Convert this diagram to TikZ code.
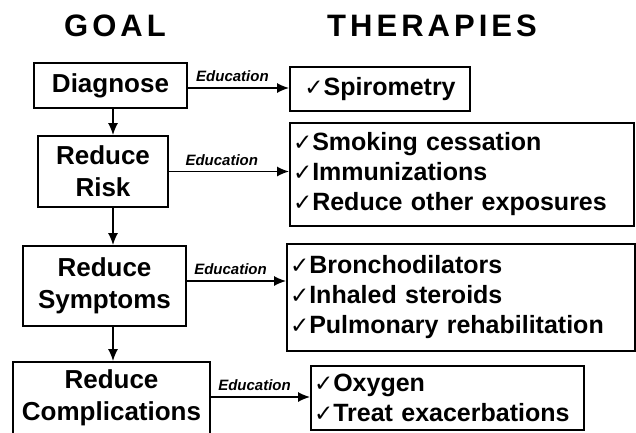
\documentclass[tikz,border=0pt]{standalone}
\usepackage{fontspec}
\setmainfont{Liberation Sans}
\newfontfamily\titlefont[LetterSpace=13]{Liberation Sans}
\newfontfamily\checkfont{DejaVu Sans}
\newcommand{\chk}{{\checkfont\fontsize{23}{23}\selectfont ✓}}
\usetikzlibrary{arrows.meta}

\begin{document}
\begin{tikzpicture}[x=1pt,y=-1pt,
  goal/.style={draw, line width=1.8pt, align=center, inner sep=0pt,
    font=\bfseries\fontsize{26}{32}\selectfont},
  therapy/.style={draw, line width=1.8pt, align=left, inner xsep=3pt, inner ysep=0pt,
    font=\bfseries\fontsize{25}{30}\selectfont},
  heading/.style={font=\titlefont\bfseries\fontsize{31}{31}\selectfont},
  flow/.style={line width=1.6pt, -{Latex[length=12pt,width=10pt]}},
  edu/.style={font=\bfseries\itshape\fontsize{15}{15}\selectfont, above=2pt, pos=0.44}]
  \useasboundingbox (0,0) rectangle (636,432);

  % Column headings
  \node[heading] (goalhead) at (115,26) {GOAL};
  \node[heading] (therhead) at (432,26) {THERAPIES};

  % Goals, top to bottom
  \node[goal, minimum width=153pt, minimum height=45pt] (diag) at (110.5,85.5) {Diagnose};
  \node[goal, minimum width=130pt, minimum height=71pt] (risk) at (103,171.5) {Reduce\\Risk};
  \node[goal, minimum width=163pt, minimum height=80pt] (symp) at (104.5,286) {Reduce\\Symptoms};
  \node[goal, minimum width=197pt, minimum height=72pt] (comp) at (111.5,398) {Reduce\\Complications};

  % Therapies for each goal
  \node[therapy, minimum width=180pt, minimum height=44pt] (spiro) at (380,89) {\chk Spirometry};
  \node[therapy, text width=338pt, minimum height=103pt] (riskther) at (462,174.5)
    {\chk Smoking cessation\\\chk Immunizations\\\chk Reduce other exposures};
  \node[therapy, text width=342pt, minimum height=107pt] (sympther) at (461,297.5)
    {\chk Bronchodilators\\\chk Inhaled steroids\\\chk Pulmonary rehabilitation};
  \node[therapy, text width=267pt, minimum height=64pt] (compther) at (447.5,398)
    {\chk Oxygen\\\chk Treat exacerbations};

  % Goal to goal
  \coordinate (spine) at (113,0);
  \draw[flow] (diag.south -| spine) -- (risk.north -| spine);
  \draw[flow] (risk.south -| spine) -- (symp.north -| spine);
  \draw[flow] (symp.south -| spine) -- (comp.north -| spine);

  % Goal to therapies
  \draw[flow] ([yshift=-2.5pt]diag.east) -- ([yshift=-2.5pt]diag.east -| spiro.west) node[edu]{Education};
  \draw[flow] (risk.east) -- (risk.east -| riskther.west) node[edu]{Education};
  \draw[flow] ([yshift=5pt]symp.east) -- ([yshift=5pt]symp.east -| sympther.west) node[edu]{Education};
  \draw[flow] ([yshift=1pt]comp.east) -- ([yshift=1pt]comp.east -| compther.west) node[edu]{Education};
\end{tikzpicture}
\end{document}
